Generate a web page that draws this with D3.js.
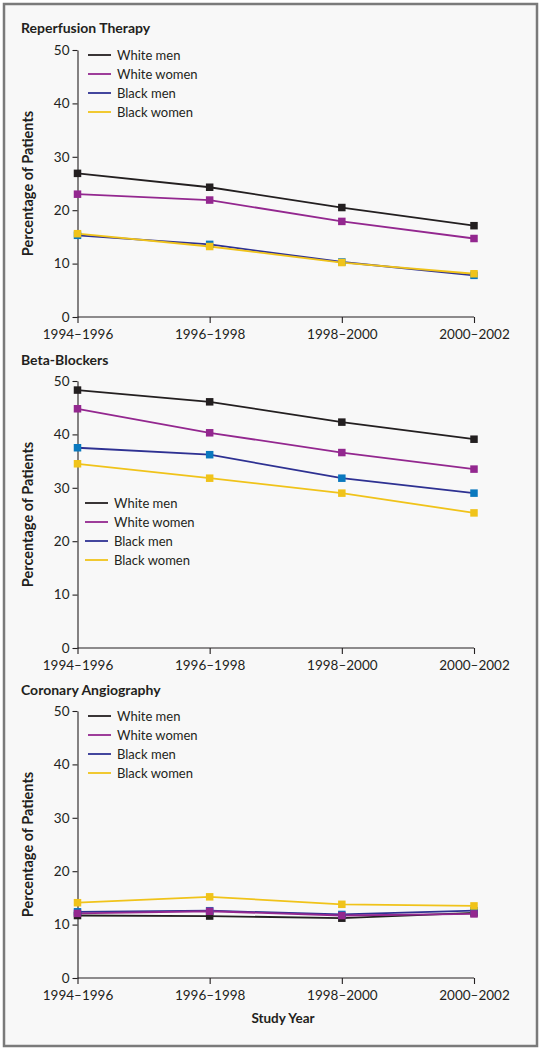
<!DOCTYPE html>
<html>
<head>
<meta charset="utf-8">
<script src="https://cdn.jsdelivr.net/npm/d3@7"></script>
<style>
  html, body { margin: 0; padding: 0; background: #ffffff; }
  svg { display: block; }
  text { font-family: Lato, "Open Sans", sans-serif; fill: #231f20; }
</style>
</head>
<body>
<svg id="chart" width="541" height="1050"></svg>
<script>
// ---- data ----
const studyYears = ["1994\u20131996", "1996\u20131998", "1998\u20132000", "2000\u20132002"];
const seriesNames = ["White men", "White women", "Black men", "Black women"];
const yTicks = [0, 10, 20, 30, 40, 50];
const panelTitles = ["Reperfusion Therapy", "Beta-Blockers", "Coronary Angiography"];

const reperfusionWhiteMen   = [26.9, 24.3, 20.5, 17.1];
const reperfusionWhiteWomen = [23.0, 21.9, 17.9, 14.7];
const reperfusionBlackMen   = [15.3, 13.6, 10.3, 7.8];
const reperfusionBlackWomen = [15.6, 13.2, 10.2, 8.1];

const betaWhiteMen   = [48.3, 46.1, 42.3, 39.1];
const betaWhiteWomen = [44.8, 40.3, 36.6, 33.5];
const betaBlackMen   = [37.5, 36.2, 31.8, 29.0];
const betaBlackWomen = [34.5, 31.8, 29.0, 25.3];

const angioWhiteMen   = [11.7, 11.6, 11.2, 12.2];
const angioWhiteWomen = [12.1, 12.5, 11.7, 12.0];
const angioBlackMen   = [12.4, 12.6, 11.9, 12.6];
const angioBlackWomen = [14.1, 15.2, 13.8, 13.5];

// ---- styles ----
const lineColors   = {"White men": "#231f20", "White women": "#93278f", "Black men": "#2e3192", "Black women": "#f0c31a"};
const markerColors = {"White men": "#231f20", "White women": "#93278f", "Black men": "#0a78be", "Black women": "#f0c31a"};
const drawOrder = ["White men", "Black men", "White women", "Black women"];

const panels = [
  {title: panelTitles[0], titleY: 28, top: 50, bottom: 317, legendX: 88, legendY: 55,
   values: {"White men": reperfusionWhiteMen, "White women": reperfusionWhiteWomen, "Black men": reperfusionBlackMen, "Black women": reperfusionBlackWomen}},
  {title: panelTitles[1], titleY: 360, top: 381, bottom: 648, legendX: 85, legendY: 503,
   values: {"White men": betaWhiteMen, "White women": betaWhiteWomen, "Black men": betaBlackMen, "Black women": betaBlackWomen}},
  {title: panelTitles[2], titleY: 690, top: 711, bottom: 978, legendX: 88, legendY: 716,
   values: {"White men": angioWhiteMen, "White women": angioWhiteWomen, "Black men": angioBlackMen, "Black women": angioBlackWomen}}
];

const svg = d3.select("#chart");

// background + frame
svg.append("rect").attr("x", 0).attr("y", 0).attr("width", 541).attr("height", 1050).attr("fill", "#ffffff");
svg.append("rect").attr("x", 4).attr("y", 4).attr("width", 533).attr("height", 1042)
   .attr("fill", "#f8f8f8").attr("stroke", "#7a7a7a").attr("stroke-width", 2.5);

const x = d3.scalePoint().domain(studyYears).range([77.5, 474]);

panels.forEach(p => {
  const y = d3.scaleLinear().domain([0, 50]).range([p.bottom, p.top]);
  const g = svg.append("g");

  g.append("text").attr("x", 21).attr("y", p.titleY).attr("dy", "0.35em")
    .attr("font-size", 14).attr("font-weight", 700).text(p.title);

  // y axis
  const yAxis = g.append("g").attr("transform", `translate(${x(studyYears[0])},0)`)
    .call(d3.axisLeft(y).tickValues(yTicks).tickSize(5).tickSizeOuter(0).tickPadding(3));
  yAxis.selectAll("path, line").attr("stroke", "#231f20").attr("stroke-width", 1.1);
  yAxis.selectAll("text").attr("font-size", 13.5).attr("font-family", "Lato, sans-serif").attr("fill", "#231f20");

  // x axis
  const xAxis = g.append("g").attr("transform", `translate(0,${p.bottom})`)
    .call(d3.axisBottom(x).tickSize(6).tickSizeOuter(0).tickPadding(6));
  xAxis.select("path").attr("d", `M${x(studyYears[0])},0H${x(studyYears[3])}`);
  xAxis.selectAll("path, line").attr("stroke", "#231f20").attr("stroke-width", 1.1);
  xAxis.selectAll("text").attr("font-size", 13.5).attr("font-family", "Lato, sans-serif").attr("fill", "#231f20");

  // y label
  g.append("text")
    .attr("transform", `translate(33,${(p.top + p.bottom) / 2}) rotate(-90)`)
    .attr("text-anchor", "middle").attr("font-size", 14.5).attr("font-weight", 700)
    .text("Percentage of Patients");

  // lines
  const line = d3.line().x((d, i) => x(studyYears[i])).y(d => y(d));
  drawOrder.forEach(name => {
    const vals = p.values[name];
    g.append("path").datum(vals).attr("d", line).attr("fill", "none")
      .attr("stroke", lineColors[name]).attr("stroke-width", 1.8);
  });
  drawOrder.forEach(name => {
    const vals = p.values[name];
    g.selectAll(null).data(vals).enter().append("rect")
      .attr("x", (d, i) => x(studyYears[i]) - 3.75).attr("y", d => y(d) - 3.75)
      .attr("width", 7.5).attr("height", 7.5).attr("fill", markerColors[name]);
  });

  // legend
  seriesNames.forEach((name, i) => {
    const ly = p.legendY + i * 19;
    g.append("line").attr("x1", p.legendX).attr("x2", p.legendX + 23).attr("y1", ly).attr("y2", ly)
      .attr("stroke", lineColors[name]).attr("stroke-width", 1.8);
    g.append("text").attr("x", p.legendX + 29).attr("y", ly).attr("dy", "0.35em")
      .attr("font-size", 13).text(name);
  });
});

svg.append("text").attr("x", 283).attr("y", 1018).attr("dy", "0.35em").attr("text-anchor", "middle")
  .attr("font-size", 13.5).attr("font-weight", 700).text("Study Year");
</script>
</body>
</html>
